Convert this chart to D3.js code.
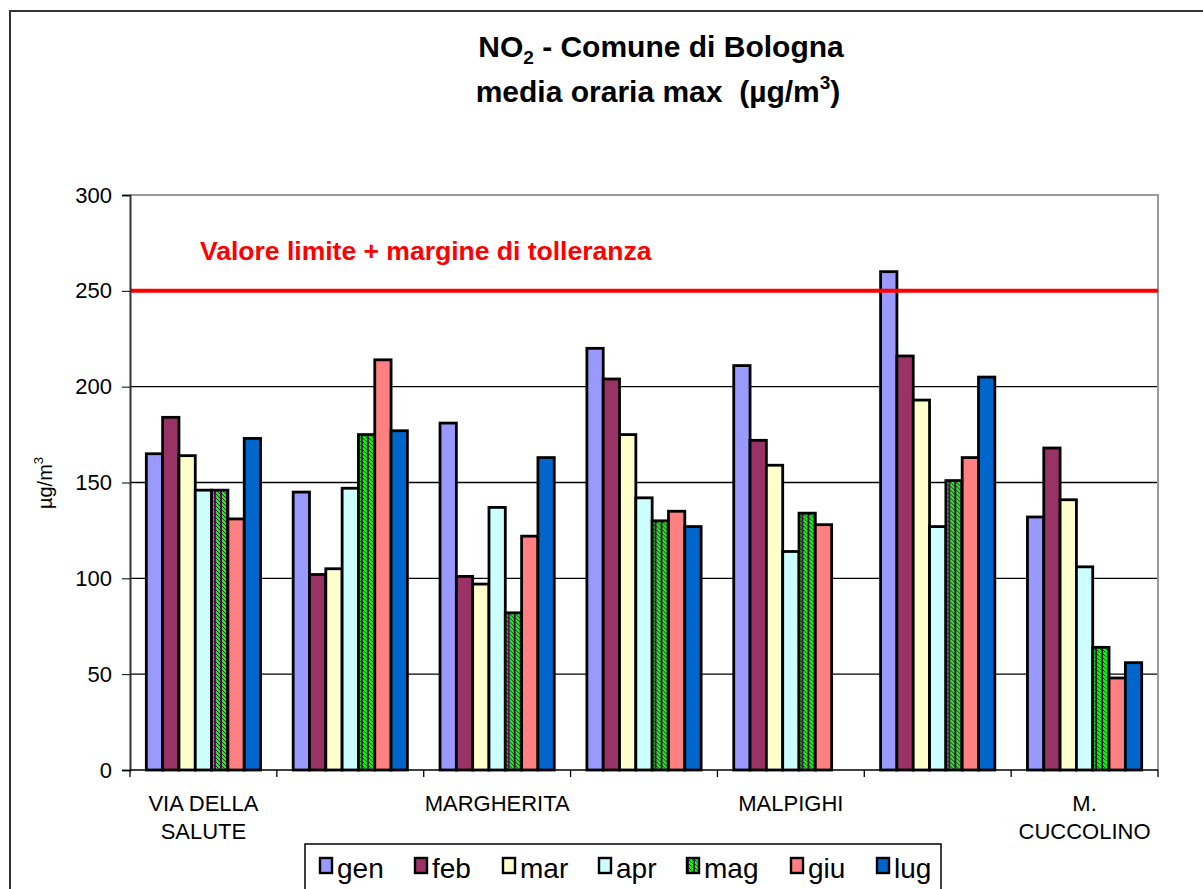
<!DOCTYPE html>
<html>
<head>
<meta charset="utf-8">
<script src="https://cdn.jsdelivr.net/npm/d3@7"></script>
<style>
  body { margin: 0; background: #fff; }
  text { font-family: "Liberation Sans", Arial, sans-serif; }
</style>
</head>
<body>
<div id="chart"></div>
<script>
// stations (only every other one is labelled in the original)
var stations = [["VIA DELLA", "SALUTE"], [], ["MARGHERITA"], [], ["MALPIGHI"], [], ["M.", "CUCCOLINO"]];
var months = ["gen", "feb", "mar", "apr", "mag", "giu", "lug"];
var colors = ["#9999ff", "#993366", "#ffffcc", "#ccffff", "url(#magPattern)", "#ff8080", "#0066cc"];

var gen = [165, 145, 181, 220, 211, 260, 132];
var feb = [184, 102, 101, 204, 172, 216, 168];
var mar = [164, 105, 97, 175, 159, 193, 141];
var apr = [146, 147, 137, 142, 114, 127, 106];
var mag = [146, 175, 82, 130, 134, 151, 64];
var giu = [131, 214, 122, 135, 128, 163, 48];
var lug = [173, 177, 163, 127, null, 205, 56];
var series = [gen, feb, mar, apr, mag, giu, lug];

var yTicks = [0, 50, 100, 150, 200, 250, 300];
var limite = 250;

var W = 1203, H = 889;
var plotLeft = 130, plotRight = 1158, plotTop = 195, plotBottom = 770;

var svg = d3.select("#chart").append("svg")
  .attr("width", W).attr("height", H);

// pattern for "mag": green with purple stripes and dark checks
var defs = svg.append("defs");
var pat = defs.append("pattern")
  .attr("id", "magPattern")
  .attr("patternUnits", "userSpaceOnUse")
  .attr("width", 6).attr("height", 4);
pat.append("rect").attr("width", 6).attr("height", 4).attr("fill", "#00ff00");
pat.append("rect").attr("x", 0).attr("width", 2).attr("height", 4).attr("fill", "#660066");
pat.append("rect").attr("x", 4).attr("y", 0).attr("width", 1).attr("height", 1).attr("fill", "#333");
pat.append("rect").attr("x", 5).attr("y", 1).attr("width", 1).attr("height", 1).attr("fill", "#333");
pat.append("rect").attr("x", 2).attr("y", 2).attr("width", 1).attr("height", 1).attr("fill", "#333");
pat.append("rect").attr("x", 3).attr("y", 3).attr("width", 1).attr("height", 1).attr("fill", "#333");

// outer frame (top and left)
svg.append("path")
  .attr("d", "M10,889V11H1203")
  .attr("fill", "none").attr("stroke", "#333").attr("stroke-width", 2);

// title
var title = svg.append("text")
  .attr("x", 661).attr("y", 57)
  .attr("text-anchor", "middle")
  .attr("font-size", 30).attr("font-weight", "bold");
title.append("tspan").text("NO");
title.append("tspan").attr("font-size", 19).attr("dy", 7).text("2");
title.append("tspan").attr("dy", -7).text(" - Comune di Bologna");

var title2 = svg.append("text")
  .attr("x", 658).attr("y", 102)
  .attr("text-anchor", "middle")
  .attr("font-size", 30).attr("font-weight", "bold");
title2.append("tspan").text("media oraria max \u00a0(\u00b5g/m");
title2.append("tspan").attr("font-size", 19).attr("dy", -13).text("3");
title2.append("tspan").attr("dy", 13).text(")");

// scales
var x0 = d3.scaleBand()
  .domain(d3.range(stations.length))
  .range([plotLeft, plotRight]);

var x1 = d3.scaleBand()
  .domain(months)
  .range([0, x0.bandwidth()])
  .paddingOuter(1);

var y = d3.scaleLinear()
  .domain([0, 300])
  .range([plotBottom, plotTop]);

// gridlines
svg.append("g")
  .selectAll("line")
  .data(yTicks.filter(function (d) { return d > 0 && d < 300; }))
  .enter().append("line")
    .attr("x1", plotLeft).attr("x2", plotRight)
    .attr("y1", function (d) { return y(d); })
    .attr("y2", function (d) { return y(d); })
    .attr("stroke", "#000").attr("stroke-width", 1.3);

// plot area border (top / right) in gray
svg.append("path")
  .attr("d", "M" + plotLeft + "," + plotTop + "H" + plotRight + "V" + plotBottom)
  .attr("fill", "none").attr("stroke", "#999").attr("stroke-width", 2);

// bars
var groups = svg.append("g")
  .selectAll("g")
  .data(d3.range(stations.length))
  .enter().append("g")
    .attr("transform", function (i) { return "translate(" + x0(i) + ",0)"; });

groups.selectAll("rect")
  .data(function (i) {
    return months.map(function (m, k) { return { m: m, k: k, v: series[k][i] }; })
      .filter(function (d) { return d.v != null; });
  })
  .enter().append("rect")
    .attr("x", function (d) { return x1(d.m); })
    .attr("width", x1.bandwidth())
    .attr("y", function (d) { return y(d.v); })
    .attr("height", function (d) { return y(0) - y(d.v); })
    .attr("fill", function (d) { return colors[d.k]; })
    .attr("stroke", "#000").attr("stroke-width", 2.8);

// limit line
svg.append("line")
  .attr("x1", plotLeft).attr("x2", plotRight)
  .attr("y1", y(limite)).attr("y2", y(limite))
  .attr("stroke", "#ff0000").attr("stroke-width", 4);

svg.append("text")
  .attr("x", 200).attr("y", 260)
  .attr("fill", "#ff0000")
  .attr("font-size", 26.5).attr("font-weight", "bold")
  .text("Valore limite + margine di tolleranza");

// Y axis
var yAxis = svg.append("g")
  .attr("transform", "translate(" + plotLeft + ",0)")
  .call(d3.axisLeft(y).tickValues(yTicks).tickSize(8).tickPadding(10));
yAxis.select(".domain").attr("stroke", "#333").attr("stroke-width", 2);
yAxis.selectAll(".tick line").attr("stroke", "#000");
yAxis.selectAll("text")
  .attr("font-size", 22).attr("fill", "#000")
  .style("font-family", "Liberation Sans, Arial, sans-serif");

// X axis line and ticks at category boundaries
svg.append("line")
  .attr("x1", plotLeft).attr("x2", plotRight)
  .attr("y1", plotBottom).attr("y2", plotBottom)
  .attr("stroke", "#000").attr("stroke-width", 1.5);

svg.append("g")
  .selectAll("line")
  .data(d3.range(stations.length + 1))
  .enter().append("line")
    .attr("x1", function (i) { return plotLeft + i * x0.step(); })
    .attr("x2", function (i) { return plotLeft + i * x0.step(); })
    .attr("y1", plotBottom).attr("y2", plotBottom + 7)
    .attr("stroke", "#000").attr("stroke-width", 1.3);

// category labels
svg.append("g")
  .selectAll("text")
  .data(stations)
  .enter().append("text")
    .attr("text-anchor", "middle")
    .attr("font-size", 22)
    .attr("transform", function (d, i) {
      return "translate(" + (x0(i) + x0.bandwidth() / 2) + ",811)";
    })
    .each(function (d) {
      var t = d3.select(this);
      d.forEach(function (line, j) {
        t.append("tspan").attr("x", 0).attr("y", j * 28).text(line);
      });
    });

// Y axis title
var yt = svg.append("text")
  .attr("transform", "translate(52,483) rotate(-90)")
  .attr("text-anchor", "middle")
  .attr("font-size", 20);
yt.append("tspan").text("\u00b5g/m");
yt.append("tspan").attr("font-size", 13).attr("dy", -9).text("3");

// legend
svg.append("rect")
  .attr("x", 305).attr("y", 844)
  .attr("width", 636).attr("height", 60)
  .attr("fill", "#fff").attr("stroke", "#000").attr("stroke-width", 1.5);

var legendX = [320, 415, 503, 599, 687, 791, 877];
var legend = svg.append("g")
  .selectAll("g")
  .data(months)
  .enter().append("g")
    .attr("transform", function (d, i) { return "translate(" + legendX[i] + ",858)"; });

legend.append("rect")
  .attr("width", 12).attr("height", 15)
  .attr("fill", function (d, i) { return colors[i]; })
  .attr("stroke", "#000").attr("stroke-width", 2.4);

legend.append("text")
  .attr("x", 17).attr("y", 20)
  .attr("font-size", 28)
  .text(function (d) { return d; });
</script>
</body>
</html>
